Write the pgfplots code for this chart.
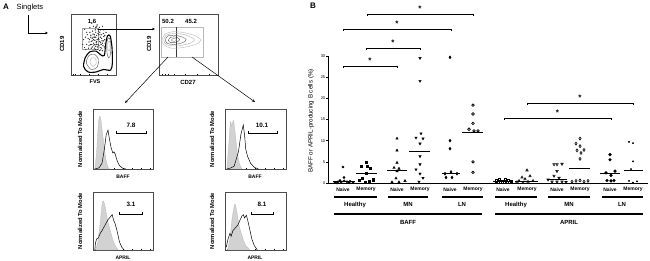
\documentclass[border=0pt]{standalone}
\usepackage{fontspec}
\setmainfont{Liberation Sans}
\usepackage{pgfplots}
\pgfplotsset{compat=1.18}
\usetikzlibrary{arrows.meta}
\newcommand{\fs}[1]{\fontsize{#1}{#1}\selectfont}
\pgfplotsset{
  flowbox/.style={scale only axis, axis line style={gray!60!black, line width=0.4pt},
    xticklabels={}, yticklabels={}, tick align=inside, major tick length=1.3pt,
    xtick pos=left, ytick pos=left, tick style={black,line width=0.3pt}, clip=false},
  histo/.style={flowbox, xmin=0,xmax=1,ymin=0,ymax=1.05,
    xtick={0.04,0.08,0.1,0.12,0.14,0.2,0.35,0.5,0.65,0.8,0.95},
    ytick={0.2,0.4,0.6,0.8}},
  grayh/.style={fill=gray!35, draw=gray!55, line width=0.3pt},
  blackh/.style={black, line width=0.5pt},
}
\begin{document}
\begin{tikzpicture}
\path[use as bounding box] (0pt,0pt) rectangle (650pt,-261pt);

% ---------------- Panel A -----------------
% plot 1: CD19 vs FVS
\begin{axis}[flowbox, at={(71pt,-75pt)}, anchor=south west, width=45pt, height=61pt,
  xmin=0,xmax=100,ymin=0,ymax=100, xtick={5,10,20,40,60,80}, ytick={10,20,35,50,65,80}]
\addplot[gray!70, line width=0.4pt] coordinates {(24.4,42.6)(60,42.6)(60,77)(24.4,77)(24.4,42.6)};
\addplot[only marks, mark=*, mark size=0.4pt, gray!40!black] coordinates {
(30,45)(35,50)(40,48)(45,55)(50,52)(55,47)(60,50)(65,45)(70,52)(38,60)(44,65)(52,62)(58,58)(62,66)(68,60)(72,68)(48,72)(55,70)(60,75)(42,78)(35,70)(28,58)(32,62)(66,74)(75,58)(78,70)(50,80)(58,82)(45,44)(63,40)(70,40)(33,42)(53,57)(47,60)(57,65)(40,54)(36,66)(64,55)(74,46)(26,50)(52,44)(43,50)(58,42)(67,50)(49,67)(61,60)(55,78)(46,85)(30,75)(70,80)(56,53)(51,49)(41,58)(65,62)(69,56)(73,63)
(48,46)(53,50)(57,55)(62,48)(66,53)(71,48)(50,58)(55,62)(60,68)(64,70)(54,74)(47,56)(44,62)(59,46)(68,44)(72,56)(76,52)(62,58)(57,50)(52,66)(46,50)(39,44)(61,72)(67,66)(73,74)(49,62)(54,42)(66,41)(42,70)(57,79)(63,78)(75,65)(77,45)};
\addplot[black, line width=1.1pt, smooth cycle] coordinates {
(28,14)(32,29)(42,38)(56,39)(66,33)(74,32)(77,50)(81,64)(87,64)(91,46)(92,20)(88,8)(72,9)(56,5)(38,5)};
\addplot[gray!60!black, line width=0.4pt, smooth cycle] coordinates {(34,20)(40,32)(52,34)(61,26)(58,13)(45,9)};
\addplot[gray!60, line width=0.4pt, smooth cycle] coordinates {(42,20)(46,28)(54,27)(56,19)(49,14)};
\addplot[gray!70!black, line width=0.4pt, smooth cycle] coordinates {(80,36)(80,55)(84,61)(88,55)(88,35)(84,28)};
\addplot[gray!60, line width=0.4pt, smooth cycle] coordinates {(82,42)(82,53)(85,56)(87,51)(86,40)};
\end{axis}

% plot 2: CD19 vs CD27
\begin{axis}[flowbox, at={(159pt,-75pt)}, anchor=south west, width=59pt, height=61pt,
  xmin=0,xmax=100,ymin=0,ymax=100, xtick={5,10,15,25,45,65,85}, ytick={10,20,35,50,65,80}]
\addplot[gray!55, line width=0.5pt] coordinates {(3.4,29.5)(74.6,29.5)(74.6,78.7)(3.4,78.7)(3.4,29.5)};
\addplot[gray!45!black, line width=0.8pt] coordinates {(28.8,29.5)(28.8,78.7)};
\addplot[gray!55, line width=0.4pt, smooth cycle] coordinates {(5,57)(10,67)(25,71)(45,69)(62,64)(71,57)(62,50)(40,45)(20,44)(8,50)};
\addplot[gray!65, line width=0.4pt, smooth cycle] coordinates {(8,57)(12,65)(26,68)(44,66)(56,61)(60,57)(52,52)(34,48)(18,48)(10,52)};
\addplot[gray!70!black, line width=0.4pt, smooth cycle] coordinates {(11,57)(15,64)(28,65)(40,62)(46,58)(40,53)(25,50)(14,52)};
\addplot[gray!60!black, line width=0.4pt, smooth cycle] coordinates {(16,57)(20,62)(30,62)(35,58)(30,54)(20,53)};
\addplot[gray, line width=0.4pt, smooth cycle] coordinates {(21,57)(24,60)(29,59)(30,57)(26,55)};
\end{axis}

% histograms
\begin{axis}[histo, at={(93pt,-169pt)}, anchor=south west, width=60pt, height=60pt]
\addplot[grayh, smooth] coordinates {(0.03,0)(0.06,0.3)(0.09,0.8)(0.11,0.92)(0.13,0.88)(0.15,0.7)(0.18,0.45)(0.21,0.2)(0.25,0.03)(0.28,0)} \closedcycle;
\addplot[blackh] coordinates {(0.03,0)(0.1,0.02)(0.15,0.1)(0.19,0.35)(0.22,0.6)(0.25,0.68)(0.27,0.55)(0.30,0.38)(0.33,0.28)(0.35,0.3)(0.37,0.26)(0.40,0.15)(0.44,0.06)(0.5,0.01)(0.55,0)};
\end{axis}
\begin{axis}[histo, at={(225pt,-169pt)}, anchor=south west, width=61pt, height=60pt]
\addplot[grayh, smooth] coordinates {(0.03,0)(0.06,0.4)(0.09,0.82)(0.11,0.75)(0.14,0.85)(0.17,0.6)(0.2,0.3)(0.24,0.08)(0.28,0)} \closedcycle;
\addplot[blackh] coordinates {(0.03,0)(0.1,0.02)(0.15,0.05)(0.22,0.3)(0.26,0.6)(0.3,0.77)(0.32,0.6)(0.34,0.35)(0.37,0.22)(0.42,0.1)(0.48,0.03)(0.55,0)};
\end{axis}
\begin{axis}[histo, at={(93pt,-250pt)}, anchor=south west, width=60pt, height=58pt]
\addplot[grayh, smooth] coordinates {(0.04,0)(0.08,0.15)(0.12,0.5)(0.15,0.82)(0.17,0.89)(0.2,0.8)(0.24,0.55)(0.3,0.3)(0.36,0.1)(0.42,0)} \closedcycle;
\addplot[blackh] coordinates {(0.03,0)(0.04,0.12)(0.06,0.2)(0.09,0.22)(0.12,0.3)(0.15,0.35)(0.2,0.45)(0.25,0.55)(0.29,0.6)(0.32,0.64)(0.34,0.55)(0.37,0.47)(0.4,0.35)(0.44,0.15)(0.48,0.05)(0.52,0)};
\end{axis}
\begin{axis}[histo, at={(225pt,-250pt)}, anchor=south west, width=61pt, height=58pt]
\addplot[grayh, smooth] coordinates {(0.04,0)(0.08,0.2)(0.12,0.6)(0.16,0.83)(0.19,0.72)(0.23,0.45)(0.28,0.25)(0.34,0.08)(0.41,0)} \closedcycle;
\addplot[blackh] coordinates {(0.02,0.05)(0.05,0.2)(0.08,0.3)(0.1,0.25)(0.13,0.35)(0.17,0.4)(0.21,0.45)(0.25,0.55)(0.28,0.62)(0.30,0.64)(0.32,0.58)(0.35,0.63)(0.37,0.55)(0.40,0.4)(0.44,0.2)(0.48,0.08)(0.53,0)};
\end{axis}

% ---------------- Panel B -----------------
\begin{axis}[at={(328pt,-183pt)}, anchor=south west, scale only axis, width=320pt, height=127pt,
  xmin=328, xmax=648, ymin=0, ymax=30, axis x line*=bottom, axis y line*=left,
  xtick=\empty, ytick={0,5,...,30}, tick align=outside, major tick length=2pt,
  tick style={black,line width=0.4pt}, axis line style={black,line width=0.5pt},
  yticklabel style={font=\fs{4}, inner sep=0.6pt}, /pgf/number format/assume math mode=true,
  clip=false, mark options={solid}]
% BAFF Healthy naive
\addplot[only marks, mark=*, mark size=1.1pt, black] coordinates {(335,0.1)(338,0.3)(341,0.2)(344,0.5)(347,0.3)(350,0.4)(353,0.2)(340,0.6)(344,1.3)(343,3.8)(349,0.1)(337,0.0)};
\addplot[black, line width=0.5pt] coordinates {(333,0.3)(355,0.3)};
% BAFF Healthy memory
\addplot[only marks, mark=square*, mark size=1.1pt, black] coordinates {(366,5.0)(361,3.9)(367,3.9)(370,3.5)(366,2.4)(362,1.2)(373,0.8)(359,0.6)(369,0.3)(365,0.1)};
\addplot[black, line width=0.5pt] coordinates {(356,2.2)(377,2.2)};
% BAFF MN naive
\addplot[only marks, mark=triangle*, mark size=1.4pt, black] coordinates {(397,10.5)(397,7.7)(397,4.8)(394,3.6)(399,3.4)(397,2.8)(396,1.1)(392,0.2)(399,0.2)(405,0.5)};
\addplot[black, line width=0.5pt] coordinates {(387,3.0)(407,3.0)};
% BAFF MN memory
\addplot[only marks, mark=triangle*, mark size=1.4pt, black, mark options={rotate=180}] coordinates {(420,29.5)(420,24.1)(421,11.7)(416,10.7)(423,10.5)(420,9.3)(420,6.3)(420,4.4)(416,3.2)(420,2.2)(423,1.2)(419,0.3)};
\addplot[black, line width=0.5pt] coordinates {(409,7.6)(430,7.6)};
% BAFF LN naive
\addplot[only marks, mark=diamond*, mark size=1.5pt, black] coordinates {(450,29.7)(450,10.0)(450,8.1)(451,2.6)(445,2.2)(457,2.2)(446,1.3)(452,1.3)};
\addplot[black, line width=0.5pt] coordinates {(442,2.3)(460,2.3)};
% BAFF LN memory
\addplot[only marks, mark=o, mark size=1.3pt, black, mark options={line width=0.7pt}] coordinates {(473,18.4)(473,16.3)(473,14.1)(469,12.7)(474,12.3)(478,12.3)(473,5.0)(473,2.5)};
\addplot[black, line width=0.5pt] coordinates {(462,12.0)(483,12.0)};
% APRIL Healthy naive
\addplot[only marks, mark=square, mark size=1.1pt, black, mark options={line width=0.6pt}] coordinates {(496,0.5)(499,0.8)(502,0.3)(505,0.9)(508,0.6)(511,0.4)(498,0.1)(504,0.2)(507,0.1)(500,0.3)};
\addplot[black, line width=0.5pt] coordinates {(493,0.3)(513,0.3)};
% APRIL Healthy memory
\addplot[only marks, mark=triangle, mark size=1.4pt, black, mark options={line width=0.6pt}] coordinates {(527,3.0)(522,1.3)(530,1.6)(525,0.9)(519,0.5)(533,0.5)(528,0.3)(523,0.1)(517,0.2)};
\addplot[black, line width=0.5pt] coordinates {(515,0.5)(538,0.5)};
% APRIL MN naive
\addplot[only marks, mark=triangle, mark size=1.4pt, black, mark options={rotate=180, line width=0.6pt}] coordinates {(554,4.4)(557,4.4)(562,4.5)(557,2.8)(554,1.7)(559,1.2)(548,0.8)(552,0.3)(557,0.3)(562,0.3)(566,0.2)};
\addplot[black, line width=0.5pt] coordinates {(547,1.0)(567,1.0)};
% APRIL MN memory
\addplot[only marks, mark=diamond, mark size=1.5pt, black, mark options={line width=0.6pt}] coordinates {(580,10.5)(576,9.3)(580,8.7)(577,7.7)(584,7.8)(581,7.1)(580,5.7)(572,0.3)(576,0.5)(580,0.6)(584,0.3)(588,0.5)};
\addplot[black, line width=0.5pt] coordinates {(569,3.4)(590,3.4)};
% APRIL LN naive
\addplot[only marks, mark=*, mark size=1.4pt, black] coordinates {(610,6.7)(610,5.5)(606,2.4)(611,1.8)(615,2.8)(607,0.6)(611,0.5)(614,0.6)};
\addplot[black, line width=0.5pt] coordinates {(600,2.2)(620,2.2)};
% APRIL LN memory
\addplot[only marks, mark=*, mark size=0.7pt, black] coordinates {(629,9.7)(633,9.4)(633,5.1)(631,3.3)(629,0.5)(637,0.4)(633,0.1)};
\addplot[black, line width=0.5pt] coordinates {(624,3.0)(643,3.0)};
\end{axis}

% ---------------- annotations (pixel coordinates) -----------------
\begin{scope}[x=1pt,y=-1pt]
% Panel A
\node[font=\fs{8}\bfseries] at (6,7) {A};
\node[font=\fs{7.5}, anchor=west] at (13,7.5) {Singlets};
\draw[line width=0.6pt, -{Stealth[length=3pt,width=2.6pt]}] (28,15) -- (28,33) -- (48,33);
\node[font=\fs{6}\bfseries] at (92,21) {1.6};
\node[font=\fs{6}\bfseries, rotate=90] at (62,44) {CD19};
\node[font=\fs{5.5}\bfseries] at (95,82) {FVS};
\draw[line width=0.6pt, -{Stealth[length=3pt,width=2.6pt]}] (98,29) -- (155,29);
\node[font=\fs{6}\bfseries] at (168,21) {50.2};
\node[font=\fs{6}\bfseries] at (191,21) {45.2};
\node[font=\fs{6}\bfseries, rotate=90] at (149,44) {CD19};
\node[font=\fs{6}\bfseries] at (188,82) {CD27};
\draw[line width=0.5pt, -{Stealth[length=3pt,width=2.6pt]}] (168,57) -- (125,103);
\draw[line width=0.5pt, -{Stealth[length=3pt,width=2.6pt]}] (192,57) -- (255,102);
% histogram labels
\foreach \xx in {80,212} {
  \node[font=\fs{5.8}\bfseries, rotate=90] at (\xx,139) {Normalized To Mode};
  \node[font=\fs{5.8}\bfseries, rotate=90] at (\xx,221) {Normalized To Mode};
}
\node[font=\fs{5}\bfseries] at (123,177) {BAFF};
\node[font=\fs{5}\bfseries] at (255,177) {BAFF};
\node[font=\fs{5}\bfseries] at (123,258) {APRIL};
\node[font=\fs{5}\bfseries] at (255,258) {APRIL};
\node[font=\fs{6.3}\bfseries] at (131,125) {7.8};
\node[font=\fs{6.3}\bfseries] at (262,125) {10.1};
\node[font=\fs{6.3}\bfseries] at (131,204) {3.1};
\node[font=\fs{6.3}\bfseries] at (262,204) {8.1};
\draw[line width=0.4pt] (116,131.5)--(116,134.5) (116,133)--(146,133) (146,131.5)--(146,134.5);
\draw[line width=0.4pt] (248,131.5)--(248,134.5) (248,133)--(277,133) (277,131.5)--(277,134.5);
\draw[line width=0.4pt] (119,212.5)--(119,215.5) (119,214)--(142,214) (142,212.5)--(142,215.5);
\draw[line width=0.4pt] (251,212.5)--(251,215.5) (251,214)--(273,214) (273,212.5)--(273,215.5);

% Panel B
\node[font=\fs{8}\bfseries] at (313,6) {B};
\node[font=\fs{6.2}, rotate=90] at (311,121) {BAFF or APRIL-producing B cells (\%)};
\foreach \xx/\lab in {343/Naive,366/Memory,397/Naive,420/Memory,450/Naive,473/Memory,503/Naive,527/Memory,557/Naive,580/Memory,610/Naive,633/Memory}
  \node[font=\fs{5}\bfseries] at (\xx,189.5) {\lab};
\foreach \a/\b in {334/377,388/428,442/483,495/537,548/590,602/643}
  \draw[line width=1.1pt] (\a,197)--(\b,197);
\foreach \xx/\lab in {355/Healthy,408/MN,462/LN,516/Healthy,569/MN,622/LN}
  \node[font=\fs{6}\bfseries] at (\xx,204.5) {\lab};
\draw[line width=1.1pt] (334,214)--(482,214);
\draw[line width=1.1pt] (495,214)--(643,214);
\node[font=\fs{6}\bfseries] at (408,222.5) {BAFF};
\node[font=\fs{6}\bfseries] at (569,222.5) {APRIL};
% significance brackets
\foreach \a/\b/\yy in {367/473/14, 343/451/29, 366/420/48, 343/397/66, 527/633/103, 504/611/118} {
  \draw[line width=0.6pt] (\a,\yy+2)--(\a,\yy)--(\b,\yy)--(\b,\yy+2);
  \node[font=\fs{8}\bfseries, inner sep=0pt] at ({(\a+\b)/2},\yy-5) {*};
}
\end{scope}
\end{tikzpicture}
\end{document}
